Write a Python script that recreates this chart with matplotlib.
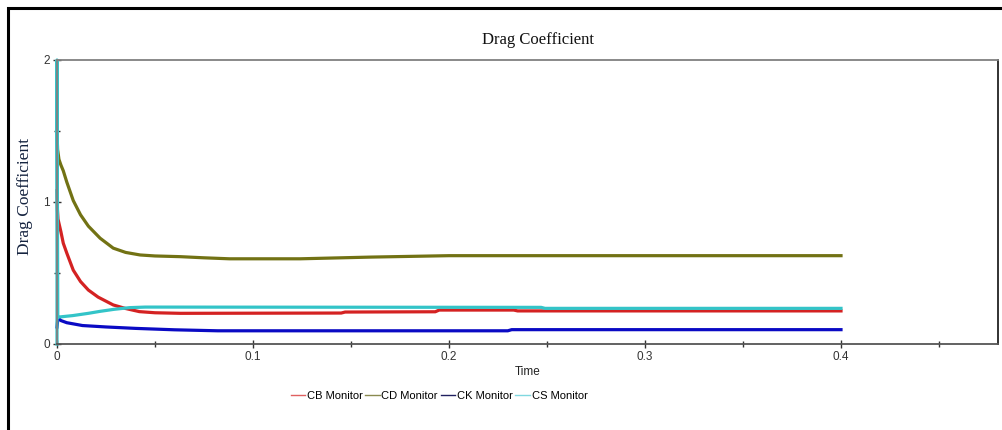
import numpy as np
import matplotlib.pyplot as plt
from matplotlib.lines import Line2D
from matplotlib.patches import Rectangle


# Monitor histories (time, drag coefficient)
cb_t = [0.0, 0.0002, 0.0005, 0.002, 0.0032, 0.005, 0.0083, 0.012, 0.016,
        0.021, 0.0287, 0.035, 0.042, 0.05, 0.063, 0.145, 0.147, 0.193,
        0.195, 0.233, 0.235, 0.4]
cb_v = [1.08, 0.95, 0.88, 0.79, 0.71, 0.64, 0.52, 0.44, 0.38,
        0.33, 0.275, 0.25, 0.228, 0.22, 0.216, 0.218, 0.225, 0.227,
        0.239, 0.239, 0.233, 0.233]

cd_t = [0.0, 0.0003, 0.001, 0.002, 0.0032, 0.005, 0.0083, 0.012, 0.016,
        0.022, 0.0287, 0.035, 0.0424, 0.05, 0.063, 0.075, 0.088, 0.124,
        0.16, 0.2, 0.4]
cd_v = [1.5, 1.37, 1.30, 1.26, 1.22, 1.14, 1.01, 0.91, 0.83,
        0.745, 0.675, 0.645, 0.627, 0.62, 0.615, 0.607, 0.60, 0.60,
        0.612, 0.622, 0.622]

ck_t = [0.0, 0.0005, 0.002, 0.005, 0.009, 0.013, 0.025, 0.04, 0.06,
        0.082, 0.23, 0.232, 0.4]
ck_v = [0.12, 0.185, 0.165, 0.15, 0.14, 0.13, 0.12, 0.11, 0.10,
        0.093, 0.093, 0.101, 0.101]

cs_t = [0.0, 0.0, 0.0004, 0.001, 0.008, 0.016, 0.022, 0.029, 0.037,
        0.045, 0.247, 0.249, 0.4]
cs_v = [0.0, 2.0, 0.2, 0.19, 0.2, 0.216, 0.23, 0.244, 0.256,
        0.26, 0.258, 0.251, 0.251]

names = ['CB Monitor', 'CD Monitor', 'CK Monitor', 'CS Monitor']
colors = ['#d42222', '#727214', '#0a0ac4', '#33c4c8']
legend_colors = ['#e06060', '#8a8a50', '#202060', '#80d8e0']

x_ticks = [0.0, 0.1, 0.2, 0.3, 0.4]
x_labels = ['0', '0.1', '0.2', '0.3', '0.4']
y_ticks = [0, 1, 2]
y_labels = ['0', '1', '2']

W, H = 1002, 430
fig = plt.figure(figsize=(W/100, H/100), dpi=100)
ax = fig.add_axes([57/W, 1 - 344/H, (998 - 57)/W, (344 - 60)/H])

series = [(cb_t, cb_v), (cd_t, cd_v), (ck_t, ck_v), (cs_t, cs_v)]
for (t, v), c in zip(series, colors):
    ax.plot(t, v, color=c, lw=2.3, clip_on=False)

ax.set_xlim(0, (998 - 57)/1960)
ax.set_ylim(0, 2)
ax.set_xticks(x_ticks)
ax.set_xticklabels(x_labels)
ax.set_xticks(np.array(x_ticks) + 0.05, minor=True)
ax.set_yticks(y_ticks)
ax.set_yticklabels(y_labels)
ax.set_yticks([0.5, 1.5], minor=True)
ax.tick_params(which='both', direction='inout', color='#333333',
               labelcolor='#333333', labelsize=8.5, pad=2)
ax.tick_params(which='major', length=6, width=1)
ax.tick_params(which='minor', length=5, width=1)
for lab in (ax.get_xticklabels() + ax.get_yticklabels()):
    lab.set_family('Liberation Sans')

ax.spines['top'].set_color('#808080')
ax.spines['left'].set_color('#808080')
ax.spines['bottom'].set_color('#555555')
ax.spines['right'].set_color('#222222')
for s in ax.spines.values():
    s.set_linewidth(1.3)

ax.set_xlabel('Time', fontsize=8.5, family='Liberation Sans', color='#222222',
              labelpad=2)
fig.text(538/W, 1 - 40/H, 'Drag Coefficient', ha='center', va='center',
         fontsize=12, family='Liberation Serif', color='#111111')
fig.text(25/W, 1 - 196/H, 'Drag Coefficient', ha='center', va='center',
         rotation=90, fontsize=12.5, family='Liberation Serif',
         color='#15233f')

handles = [Line2D([], [], color=c, lw=1) for c in legend_colors]
fig.legend(handles, names, loc='center', bbox_to_anchor=(439/W, 1 - 396/H),
           ncol=4, frameon=False, handlelength=1.3, handletextpad=0.15,
           columnspacing=0.25, prop={'family': 'Liberation Sans', 'size': 8})

# black frame around the figure
fig.patches.append(Rectangle((8/W, -0.2), 1.5, 1.2 - 8/H,
                             transform=fig.transFigure, fill=False,
                             edgecolor='black', lw=2.2))

fig.savefig('out.png', dpi=100)
